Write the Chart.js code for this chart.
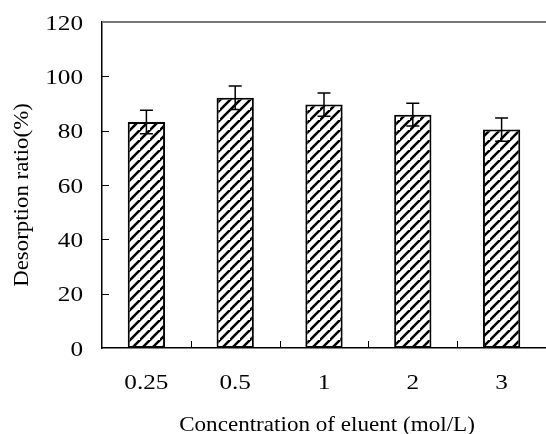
<!DOCTYPE html>
<html>
<head>
<meta charset="utf-8">
<script src="https://cdn.jsdelivr.net/npm/chart.js@4.4.1/dist/chart.umd.min.js"></script>
<style>
  html, body { margin: 0; padding: 0; background: #fff; }
  #wrap { width: 546px; height: 434px; }
</style>
</head>
<body>
<div id="wrap"><canvas id="c" width="546" height="434"></canvas></div>
<script>
// Eluent concentrations (mol/L) and measured desorption ratios (%)
const concentrations = ['0.25', '0.5', '1', '2', '3'];
const desorptionRatio = [83.2, 92.1, 89.6, 85.9, 80.4];
const errorAmount = [4.3, 4.3, 4.3, 4.2, 4.3];
const yTicks = [0, 20, 40, 60, 80, 100, 120];
const xTitle = 'Concentration of eluent (mol/L)';
const yTitle = 'Desorption ratio(%)';

const FONT = '"Liberation Serif", "Times New Roman", serif';

// diagonal hatch fill
function makeHatch() {
  const s = 10;
  const p = document.createElement('canvas');
  p.width = s; p.height = s;
  const g = p.getContext('2d');
  g.fillStyle = '#fff';
  g.fillRect(0, 0, s, s);
  g.strokeStyle = '#000';
  g.lineWidth = 2.6;
  g.beginPath();
  g.moveTo(-2, s + 2); g.lineTo(s + 2, -2);
  g.moveTo(-2 - s, s + 2); g.lineTo(2, -2);
  g.moveTo(s - 2, 2 * s + 2); g.lineTo(2 * s + 2, s - 2);
  g.stroke();
  return g.createPattern(p, 'repeat');
}

// wide serif lettering
function drawText(ctx, str, x, y, align, size, sx, rotated) {
  ctx.save();
  ctx.translate(x, y);
  if (rotated) ctx.rotate(-Math.PI / 2);
  ctx.scale(sx, 1);
  ctx.font = size + 'px ' + FONT;
  ctx.fillStyle = '#000';
  ctx.textAlign = align;
  ctx.textBaseline = 'alphabetic';
  ctx.fillText(str, 0, 0);
  ctx.restore();
}

const ctx = document.getElementById('c').getContext('2d');
const hatch = makeHatch();

// inward tick marks, top frame line, error bars, labels
const decorations = {
  id: 'decorations',
  afterDatasetsDraw(chart) {
    const { ctx, scales } = chart;
    const y = scales.y;
    ctx.save();
    const meta = chart.getDatasetMeta(0);
    ctx.strokeStyle = '#000';
    ctx.lineWidth = 1.5;
    meta.data.forEach((bar, i) => {
      const v = desorptionRatio[i], e = errorAmount[i];
      const yt = y.getPixelForValue(v + e);
      const yb = y.getPixelForValue(v - e);
      const cx = bar.x;
      ctx.beginPath();
      ctx.moveTo(cx, yt); ctx.lineTo(cx, yb);
      ctx.moveTo(cx - 6.5, yt); ctx.lineTo(cx + 6.5, yt);
      ctx.moveTo(cx - 6.5, yb); ctx.lineTo(cx + 6.5, yb);
      ctx.stroke();
    });
    ctx.restore();
  },
  afterDraw(chart) {
    const { ctx, chartArea, scales } = chart;
    const x = scales.x, y = scales.y;
    ctx.save();
    // top frame line
    ctx.strokeStyle = '#777';
    ctx.lineWidth = 2;
    ctx.beginPath();
    ctx.moveTo(chartArea.left, chartArea.top);
    ctx.lineTo(chartArea.right, chartArea.top);
    ctx.stroke();
    // y ticks pointing inward
    ctx.strokeStyle = '#000';
    ctx.lineWidth = 1;
    yTicks.slice(1, -1).forEach(t => {
      const py = Math.round(y.getPixelForValue(t)) + 0.5;
      ctx.beginPath();
      ctx.moveTo(chartArea.left, py);
      ctx.lineTo(chartArea.left + 7, py);
      ctx.stroke();
    });
    // x ticks between categories
    const step = (chartArea.right - chartArea.left) / concentrations.length;
    for (let i = 1; i < concentrations.length; i++) {
      const px = Math.round(chartArea.left + i * step) + 0.5;
      ctx.beginPath();
      ctx.moveTo(px, chartArea.bottom);
      ctx.lineTo(px, chartArea.bottom - 7);
      ctx.stroke();
    }
    ctx.restore();
    // tick labels
    yTicks.forEach(t => {
      drawText(ctx, String(t), chartArea.left - 19, y.getPixelForValue(t) + 7.5, 'right', 21, 1.2, false);
    });
    concentrations.forEach((c, i) => {
      drawText(ctx, c, x.getPixelForValue(i), chartArea.bottom + 41, 'center', 21, 1.2, false);
    });
    // axis titles
    drawText(ctx, xTitle, 327, 431, 'center', 21, 1.1, false);
    drawText(ctx, yTitle, 28, 195, 'center', 21, 1.09, true);
  }
};

new Chart(ctx, {
  type: 'bar',
  data: {
    labels: concentrations,
    datasets: [{
      data: desorptionRatio,
      backgroundColor: hatch,
      borderColor: '#000',
      borderWidth: 2,
      borderSkipped: false,
      categoryPercentage: 1,
      barPercentage: 0.42
    }]
  },
  options: {
    responsive: false,
    animation: false,
    devicePixelRatio: 1,
    layout: { padding: { top: 22, right: 0, bottom: 0, left: 0 } },
    plugins: { legend: { display: false }, tooltip: { enabled: false } },
    scales: {
      x: {
        grid: { display: false, drawTicks: false },
        border: { display: true, color: '#000', width: 1.5 },
        ticks: { display: false },
        afterFit(s) { s.height = 86; }
      },
      y: {
        min: 0, max: 120,
        grid: { display: false, drawTicks: false },
        border: { display: true, color: '#000', width: 1.5 },
        ticks: { display: false, stepSize: 20 },
        afterFit(s) { s.width = 102; }
      }
    }
  },
  plugins: [decorations]
});
</script>
</body>
</html>
